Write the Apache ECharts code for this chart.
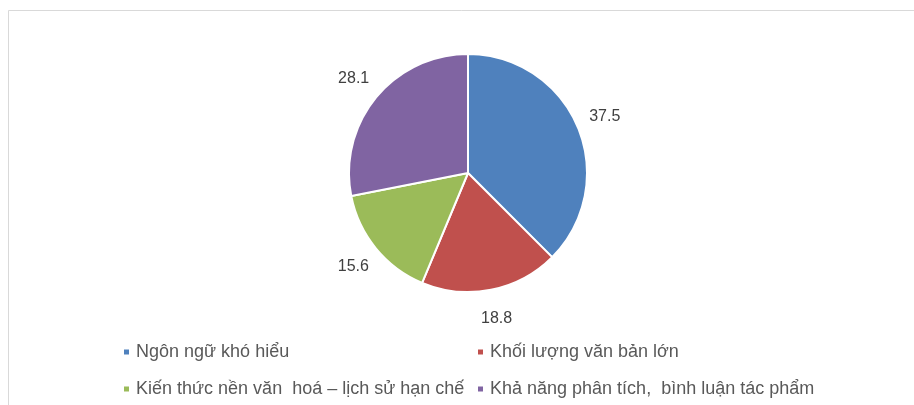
<!DOCTYPE html>
<html>
<head>
<meta charset="utf-8">
<script src="https://cdn.jsdelivr.net/npm/echarts@6/dist/echarts.min.js"></script>
<style>
    html, body { margin: 0; padding: 0; background: #fff; }
    #chart { width: 914px; height: 405px; }
</style>
</head>
<body>
<div id="chart"></div>
<script>
    // data
    var categories = [
        'Ngôn ngữ khó hiểu',
        'Khối lượng văn bản lớn',
        'Kiến thức nền văn  hoá – lịch sử hạn chế',
        'Khả năng phân tích,  bình luận tác phẩm'
    ];
    var values = [37.5, 18.8, 15.6, 28.1];
    var colors = ['#4F81BD', '#C0504D', '#9BBB59', '#8064A2'];

    var pieData = categories.map(function (name, i) {
        return {name: name, value: values[i], itemStyle: {color: colors[i]}};
    });

    var legendText = {
        color: '#595959',
        fontSize: 18,
        fontFamily: 'Liberation Sans, Arial, sans-serif',
        lineHeight: 20,
        padding: [0, 0, 0, 1]
    };

    function legendCol(left, names) {
        return {
            orient: 'vertical',
            left: left,
            top: 342,
            height: 60,
            padding: 0,
            data: names,
            icon: 'rect',
            itemWidth: 7,
            itemHeight: 7,
            itemGap: 17,
            selectedMode: false,
            textStyle: legendText
        };
    }

    var chart = echarts.init(document.getElementById('chart'));
    chart.setOption({
        animation: false,
        backgroundColor: '#fff',
        graphic: [{
            type: 'rect',
            shape: {x: 8.5, y: 10.5, width: 1000, height: 500},
            style: {fill: 'none', stroke: '#d9d9d9', lineWidth: 1},
            silent: true
        }],
        legend: [
            legendCol(122, [categories[0], categories[2]]),
            legendCol(476, [categories[1], categories[3]])
        ],
        series: [{
            type: 'pie',
            center: [468, 173],
            radius: 119,
            startAngle: 90,
            clockwise: true,
            avoidLabelOverlap: false,
            data: pieData,
            itemStyle: {borderColor: '#fff', borderWidth: 2},
            label: {
                show: true,
                position: 'outside',
                distanceToLabelLine: 0,
                color: '#404040',
                fontSize: 16,
                fontFamily: 'Liberation Sans, Arial, sans-serif',
                formatter: function (p) { return p.value.toFixed(1); }
            },
            labelLine: {show: false, length: 29, length2: 0},
            labelLayout: {align: 'center', verticalAlign: 'middle'},
            emphasis: {disabled: true}
        }]
    });
</script>
</body>
</html>
